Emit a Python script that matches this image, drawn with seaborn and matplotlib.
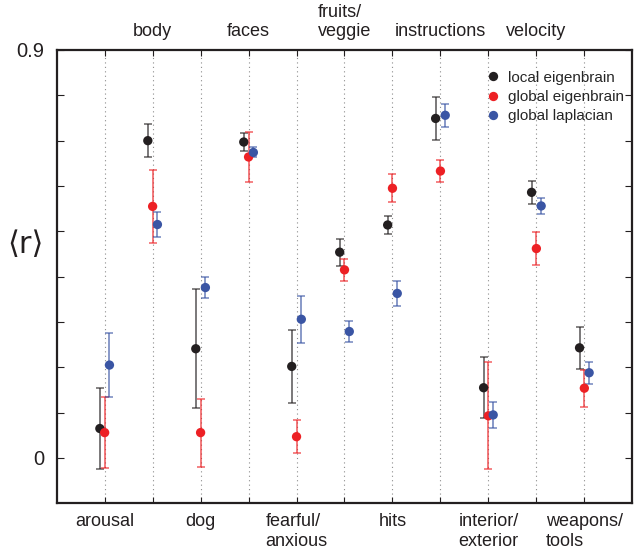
import numpy as np
import pandas as pd
import matplotlib
matplotlib.use("Agg")
import matplotlib.pyplot as plt
import seaborn as sns

# -----------------------
# DATA
# -----------------------
categories = ['arousal', 'body', 'dog', 'faces', 'fearful/\nanxious', 'fruits/\nveggie',
              'hits', 'instructions', 'interior/\nexterior', 'velocity', 'weapons/\ntools']

local_eig_mean = [0.065, 0.700, 0.241, 0.697, 0.202, 0.454, 0.514, 0.749, 0.155, 0.586, 0.243]
local_eig_err = [0.089, 0.036, 0.131, 0.019, 0.081, 0.030, 0.020, 0.047, 0.067, 0.025, 0.047]

global_eig_mean = [0.056, 0.555, 0.056, 0.664, 0.047, 0.415, 0.595, 0.633, 0.093, 0.462, 0.154]
global_eig_err = [0.079, 0.080, 0.075, 0.055, 0.036, 0.025, 0.031, 0.025, 0.118, 0.037, 0.041]

global_lap_mean = [0.205, 0.515, 0.376, 0.674, 0.306, 0.279, 0.363, 0.756, 0.095, 0.556, 0.188]
global_lap_err = [0.070, 0.027, 0.024, 0.011, 0.052, 0.024, 0.028, 0.025, 0.029, 0.018, 0.024]

series_names = ['local eigenbrain', 'global eigenbrain', 'global laplacian']
series_colors = ['#231f20', '#ed2024', '#3a55a4']
series_offset = [-0.1, 0.0, 0.1]

# -----------------------
# STYLE
# -----------------------
sns.set_style("ticks")
plt.rcParams['font.family'] = ['Liberation Sans', 'DejaVu Sans']
ink = '#231f20'

rows = []
for name, means, errs, off in zip(series_names,
                                  [local_eig_mean, global_eig_mean, global_lap_mean],
                                  [local_eig_err, global_eig_err, global_lap_err],
                                  series_offset):
    for i, (m, e) in enumerate(zip(means, errs)):
        rows.append({'series': name, 'x': i + off, 'r': m, 'err': e})
df = pd.DataFrame(rows)

fig = plt.figure(figsize=(6.42, 5.58), dpi=100)
ax = fig.add_axes([0.0883, 0.098, 0.8966, 0.8124])

# dotted guide at each category
for i in range(len(categories)):
    ax.axvline(i, color='#8c8c8c', linestyle=(0, (1, 3)), linewidth=0.8, zorder=0)

palette = dict(zip(series_names, series_colors))
for name in series_names:
    sub = df[df['series'] == name]
    ax.errorbar(sub['x'], sub['r'], yerr=sub['err'], fmt='none',
                ecolor=palette[name], elinewidth=1.3, capsize=3, capthick=1.2,
                alpha=0.65, zorder=2)

sns.scatterplot(data=df, x='x', y='r', hue='series', hue_order=series_names,
                palette=palette, s=45, edgecolor='none', ax=ax, zorder=3)

ax.set_xlim(-1, 11)
ax.set_ylim(-0.1, 0.9)

# x ticks: even categories on bottom, odd ones on top
ax.set_xticks(range(len(categories)))
ax.set_xticklabels([c if i % 2 == 0 else '' for i, c in enumerate(categories)], fontsize=13)
ax.tick_params(axis='x', direction='in', length=4, width=0.8, top=True, bottom=True,
               pad=7, colors=ink)
secax = ax.secondary_xaxis('top')
secax.set_xticks(range(len(categories)))
secax.set_xticklabels([c if i % 2 == 1 else '' for i, c in enumerate(categories)], fontsize=13)
secax.tick_params(axis='x', length=0, pad=7, colors=ink)
secax.spines['top'].set_visible(False)
for lab in ax.get_xticklabels() + secax.get_xticklabels():
    lab.set_multialignment('left')

yt = np.round(np.arange(0, 0.91, 0.1), 1)
ax.set_yticks(yt)
ax.set_yticklabels(['0'] + [''] * 8 + ['0.9'], fontsize=14.5)
ax.tick_params(axis='y', direction='in', length=5, width=0.8, left=True, right=True,
               pad=9, colors=ink)

for sp in ax.spines.values():
    sp.set_visible(True)
    sp.set_color(ink)
    sp.set_linewidth(1.6)

ax.set_xlabel('')
ax.set_ylabel('\u27e8r\u27e9', fontsize=22, rotation=0, color=ink,
              family=['DejaVu Sans'])
ax.yaxis.set_label_coords(-0.055, 0.54)

leg = ax.legend(loc='upper right', bbox_to_anchor=(1.01, 0.985), frameon=False,
                fontsize=11, handlelength=0.6, handletextpad=0.7, labelspacing=0.35,
                markerscale=1.0, title=None)

fig.savefig('out.png', dpi=100)
